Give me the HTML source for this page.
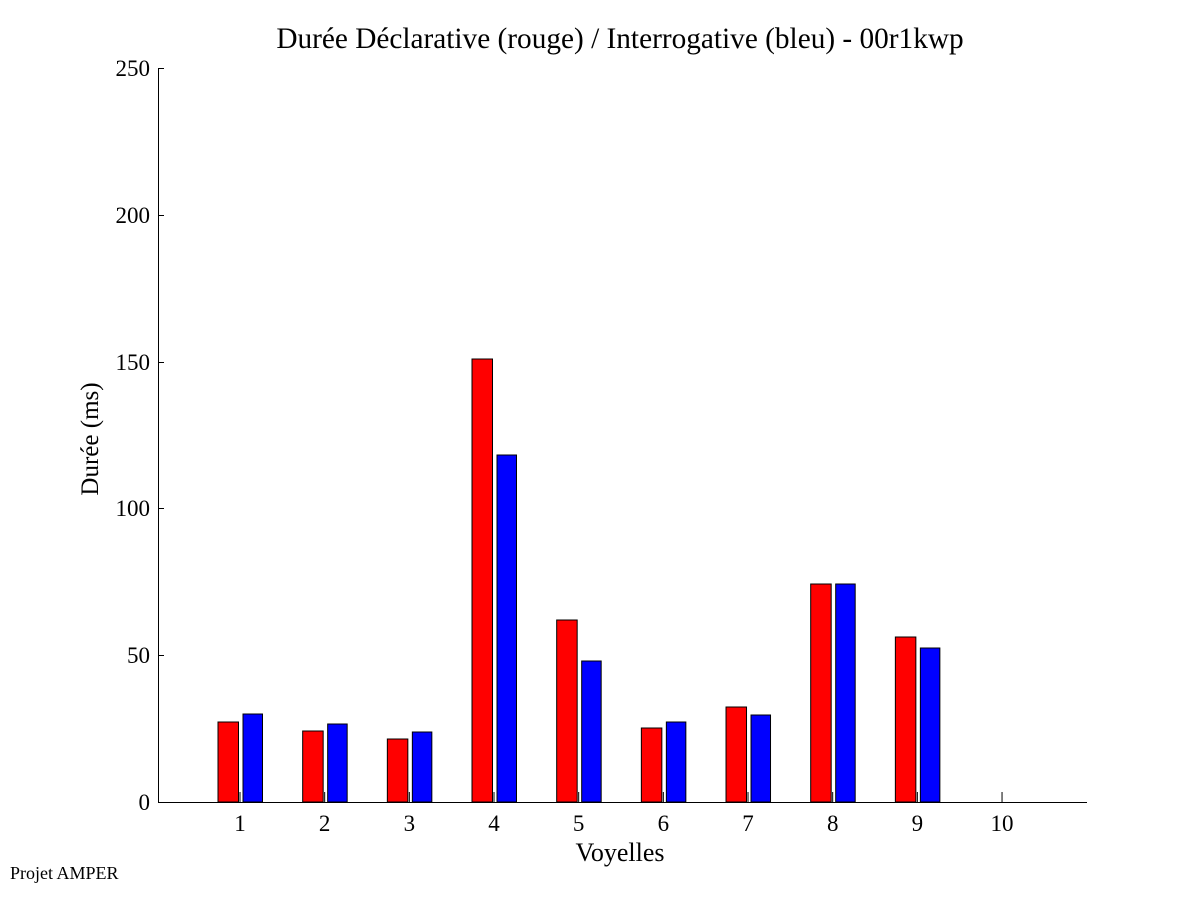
<!DOCTYPE html>
<html><head><style>body{margin:0;background:#fff}</style></head><body>
<svg width="1201" height="901" xmlns="http://www.w3.org/2000/svg" font-family="Liberation Serif, serif">
<rect width="1201" height="901" fill="#fff"/>
<text x="620" y="48" font-size="29.3" text-anchor="middle">Durée Déclarative (rouge) / Interrogative (bleu) - 00r1kwp</text>
<g stroke="#000" stroke-width="1">
<line x1="158.5" y1="68" x2="158.5" y2="802"/>
<line x1="158" y1="802.5" x2="1087" y2="802.5"/>
<line x1="158" y1="68.5" x2="164" y2="68.5"/>
<line x1="158" y1="215.5" x2="164" y2="215.5"/>
<line x1="158" y1="362.5" x2="164" y2="362.5"/>
<line x1="158" y1="508.5" x2="164" y2="508.5"/>
<line x1="158" y1="655.5" x2="164" y2="655.5"/>
</g>
<g font-size="23" text-anchor="end">
<text x="150" y="76">250</text><text x="150" y="223">200</text><text x="150" y="370">150</text>
<text x="150" y="516">100</text><text x="150" y="663">50</text><text x="150" y="810">0</text>
</g>
<text transform="translate(98,439) rotate(-90)" font-size="25" text-anchor="middle">Durée (ms)</text>
<text x="620" y="861" font-size="26" text-anchor="middle">Voyelles</text>
<text x="10" y="879" font-size="18">Projet AMPER</text>
<g stroke="#000" stroke-width="1">
<rect x="218" y="722" width="20.5" height="80" fill="#f00"/><rect x="243" y="714" width="19.5" height="88" fill="#00f"/>
<rect x="302.67" y="731" width="20.5" height="71" fill="#f00"/><rect x="327.67" y="724" width="19.5" height="78" fill="#00f"/>
<rect x="387.34" y="739" width="20.5" height="63" fill="#f00"/><rect x="412.34" y="732" width="19.5" height="70" fill="#00f"/>
<rect x="472" y="359" width="20.5" height="443" fill="#f00"/><rect x="497" y="455" width="19.5" height="347" fill="#00f"/>
<rect x="556.68" y="620" width="20.5" height="182" fill="#f00"/><rect x="581.68" y="661" width="19.5" height="141" fill="#00f"/>
<rect x="641.35" y="728" width="20.5" height="74" fill="#f00"/><rect x="666.35" y="722" width="19.5" height="80" fill="#00f"/>
<rect x="726.02" y="707" width="20.5" height="95" fill="#f00"/><rect x="751.02" y="715" width="19.5" height="87" fill="#00f"/>
<rect x="810.69" y="584" width="20.5" height="218" fill="#f00"/><rect x="835.69" y="584" width="19.5" height="218" fill="#00f"/>
<rect x="895.36" y="637" width="20.5" height="165" fill="#f00"/><rect x="920.36" y="648" width="19.5" height="154" fill="#00f"/>
</g>
<g stroke="#000">
<line x1="240" y1="792" x2="240" y2="802"/><line x1="324.67" y1="792" x2="324.67" y2="802"/>
<line x1="409.34" y1="792" x2="409.34" y2="802"/><line x1="494.01" y1="792" x2="494.01" y2="802"/>
<line x1="578.68" y1="792" x2="578.68" y2="802"/><line x1="663.35" y1="792" x2="663.35" y2="802"/>
<line x1="748.02" y1="792" x2="748.02" y2="802"/><line x1="832.69" y1="792" x2="832.69" y2="802"/>
<line x1="917.36" y1="792" x2="917.36" y2="802"/><line x1="1002.03" y1="792" x2="1002.03" y2="802"/>
</g>
<g font-size="23" text-anchor="middle">
<text x="240" y="831">1</text><text x="324.67" y="831">2</text><text x="409.34" y="831">3</text>
<text x="494.01" y="831">4</text><text x="578.68" y="831">5</text><text x="663.35" y="831">6</text>
<text x="748.02" y="831">7</text><text x="832.69" y="831">8</text><text x="917.36" y="831">9</text>
<text x="1002.03" y="831">10</text>
</g>
</svg>
</body></html>
